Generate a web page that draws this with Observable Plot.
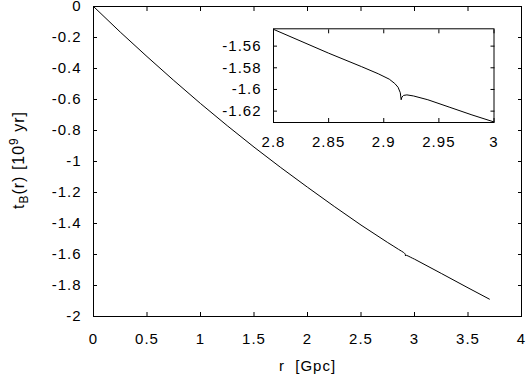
<!DOCTYPE html>
<html>
<head>
<meta charset="utf-8">
<script src="https://cdn.jsdelivr.net/npm/d3@7"></script>
<script src="https://cdn.jsdelivr.net/npm/@observablehq/plot@0.6"></script>
<style>
  html, body { margin: 0; padding: 0; background: white; }
  #wrap { position: relative; width: 529px; height: 376px; }
  #wrap svg { position: absolute; left: 0; top: 0; }
</style>
</head>
<body>
<div id="wrap"></div>
<script>
// r [Gpc] and t_B(r) [10^9 yr]
const rValues = [0, 0.25, 0.5, 0.75, 1, 1.25, 1.5, 1.75, 2, 2.25, 2.5, 2.75, 2.8, 2.85, 2.88, 2.895, 2.905, 2.91, 2.913, 2.915, 2.9158, 2.9165, 2.918, 2.921, 2.927, 2.94, 2.96, 2.98, 3, 3.25, 3.5, 3.7];
const tBValues = [0, -0.165, -0.323, -0.477, -0.626, -0.769, -0.907, -1.039, -1.166, -1.29, -1.41, -1.523, -1.5445, -1.5665, -1.579, -1.5855, -1.5905, -1.5945, -1.598, -1.603, -1.6095, -1.607, -1.6055, -1.605, -1.606, -1.6095, -1.6165, -1.6235, -1.630, -1.722, -1.815, -1.888];

const xTicks = [0, 0.5, 1, 1.5, 2, 2.5, 3, 3.5, 4];
const yTicks = [0, -0.2, -0.4, -0.6, -0.8, -1, -1.2, -1.4, -1.6, -1.8, -2];
const insetXTicks = [2.8, 2.85, 2.9, 2.95, 3];
const insetYTicks = [-1.56, -1.58, -1.6, -1.62];
const xLabel = "r \u00a0[Gpc]";

const data = rValues.map((r, i) => ({r, t: tBValues[i]}));
const insetData = data.filter(d => d.r >= 2.8 && d.r <= 3);

const font = "'Liberation Sans', Arial, sans-serif";
const fmt = d => String(d);

function axesFor(xt, yt, xPad, yPad) {
  return [
    Plot.axisX(xt, {anchor: "bottom", tickSize: 0, tickPadding: xPad, tickFormat: fmt, label: null}),
    Plot.axisY(yt, {anchor: "left", tickSize: 0, tickPadding: yPad, tickFormat: fmt, label: null}),
    Plot.axisX(xt, {anchor: "bottom", tickSize: -4, fill: "none", label: null}),
    Plot.axisX(xt, {anchor: "top", tickSize: -4, fill: "none", label: null}),
    Plot.axisY(yt, {anchor: "left", tickSize: -4, fill: "none", label: null}),
    Plot.axisY(yt, {anchor: "right", tickSize: -4, fill: "none", label: null})
  ];
}

const main = Plot.plot({
  width: 529, height: 376,
  marginLeft: 93, marginRight: 8, marginTop: 6, marginBottom: 60,
  style: {fontFamily: font, fontSize: "15px", color: "black", background: "white", letterSpacing: "1px"},
  x: {domain: [0, 4]},
  y: {domain: [-2, 0]},
  marks: [
    ...axesFor(xTicks, yTicks, 17, 12),
    Plot.line(data, {x: "r", y: "t", stroke: "black", strokeWidth: 1}),
    Plot.frame({stroke: "black", strokeWidth: 1}),
    Plot.text([xLabel], {text: d => d, frameAnchor: "bottom", lineAnchor: "bottom", dy: 54, fill: "black"})
  ]
});

const inset = Plot.plot({
  width: 529, height: 376,
  marginLeft: 273, marginRight: 35.5, marginTop: 28.3, marginBottom: 254,
  style: {fontFamily: font, fontSize: "15px", color: "black", background: "transparent", letterSpacing: "1px"},
  x: {domain: [2.8, 3]},
  y: {domain: [-1.6305, -1.544]},
  marks: [
    ...axesFor(insetXTicks, insetYTicks, 14, 12),
    Plot.line(insetData, {x: "r", y: "t", stroke: "black", strokeWidth: 1}),
    Plot.frame({stroke: "black", strokeWidth: 1})
  ]
});

const wrap = document.getElementById("wrap");
wrap.appendChild(main);
wrap.appendChild(inset);

// y-axis label with subscript and superscript
const lab = d3.select(main).append("text")
  .attr("transform", "translate(24,160) rotate(-90)")
  .attr("text-anchor", "middle")
  .attr("fill", "black")
  .style("font-family", font)
  .style("font-size", "16px")
  .style("letter-spacing", "1px");
lab.append("tspan").text("t");
lab.append("tspan").attr("dy", 4).style("font-size", "12px").text("B");
lab.append("tspan").attr("dy", -4).text("(r) [10");
lab.append("tspan").attr("dy", -6).style("font-size", "12px").text("9");
lab.append("tspan").attr("dy", 6).text(" yr]");
</script>
</body>
</html>
